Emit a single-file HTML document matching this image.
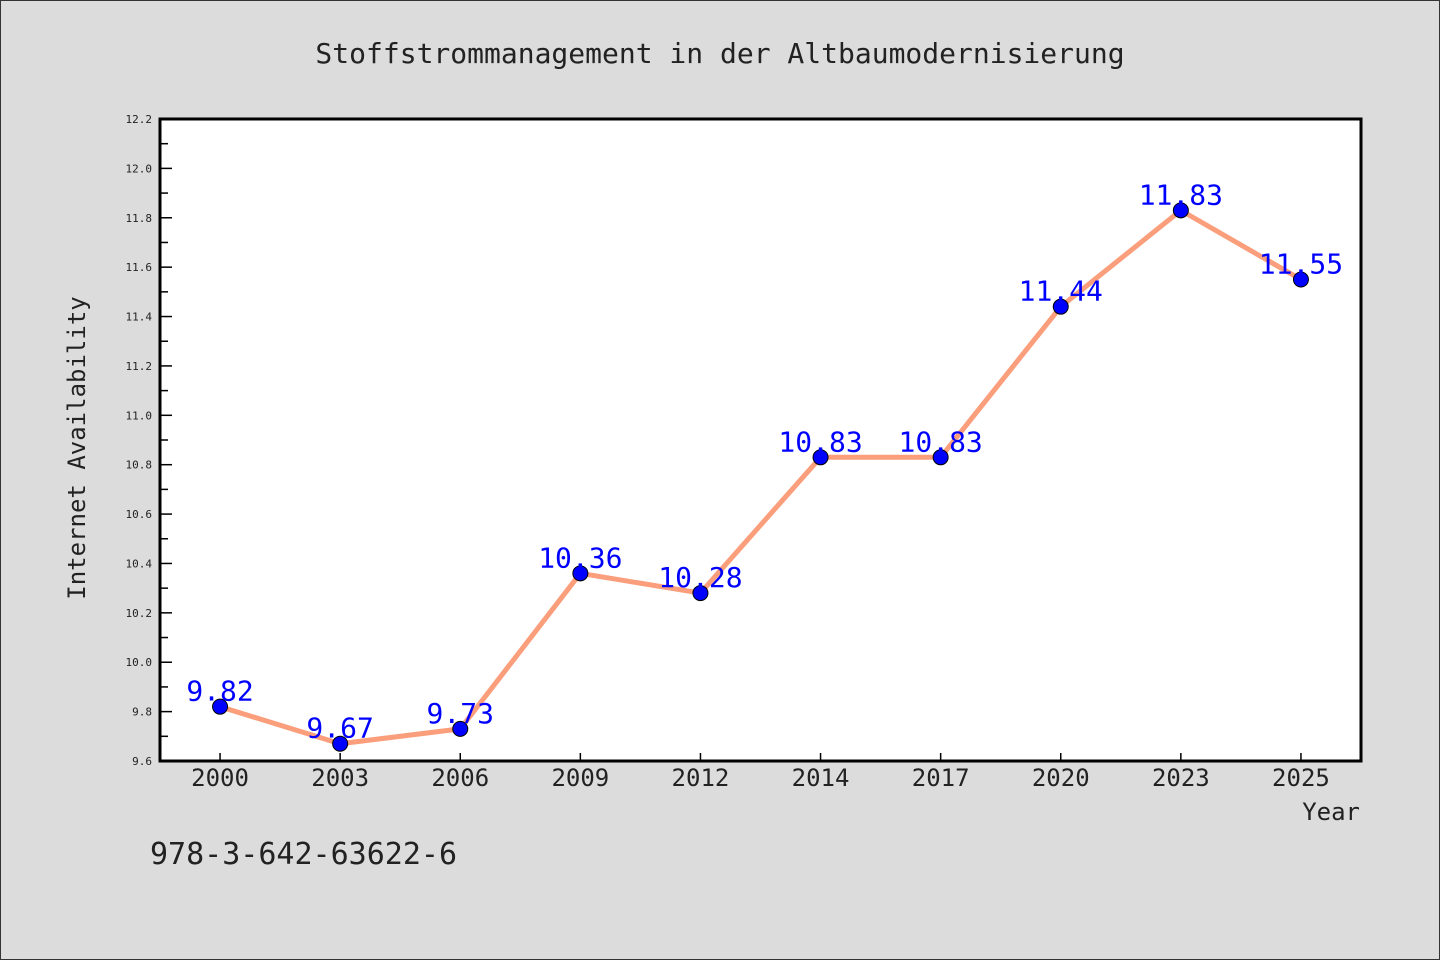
<!DOCTYPE html>
<html><head><meta charset="utf-8"><style>
body{margin:0;background:#dcdcdc}
svg{display:block}
text{font-family:"WenQuanYi Zen Hei","DejaVu Sans Mono",monospace}
</style></head><body>
<svg id="c" width="1440" height="960" xmlns="http://www.w3.org/2000/svg">
<rect x="0.5" y="0.5" width="1439" height="959" fill="#dcdcdc" stroke="#333"/>
<text x="720" y="63" font-size="28" text-anchor="middle" fill="#222">Stoffstrommanagement in der Altbaumodernisierung</text>
<rect x="160" y="119" width="1201" height="642" fill="#fff"/>
<g id="ticks"></g>
<g id="series"></g>
<path d="M160,119 H1361 V761 H160 Z" fill="none" stroke="#000" stroke-width="3"/>
<text transform="translate(85,448) rotate(-90)" font-size="24" text-anchor="middle" fill="#222">Internet Availability</text>
<text x="1360" y="820" font-size="24" text-anchor="end" fill="#222">Year</text>
<text x="150" y="864" font-size="30" fill="#222">978-3-642-63622-6</text>
</svg>
<script>
const categories=["2000","2003","2006","2009","2012","2014","2017","2020","2023","2025"];
const values=[9.82,9.67,9.73,10.36,10.28,10.83,10.83,11.44,11.83,11.55];
const valueLabels=["9.82","9.67","9.73","10.36","10.28","10.83","10.83","11.44","11.83","11.55"];
const yTicks=["9.6","9.8","10.0","10.2","10.4","10.6","10.8","11.0","11.2","11.4","11.6","11.8","12.0","12.2"];
const yMin=9.6,yMax=12.2,L=160,R=1361,T=119,B=761;
const NS="http://www.w3.org/2000/svg";
const y=v=>B-(v-yMin)/(yMax-yMin)*(B-T);
const band=(R-L)/categories.length;
const x=i=>L+band*(i+0.5);
function mk(tag,attrs,parent){const e=document.createElementNS(NS,tag);for(const k in attrs)e.setAttribute(k,attrs[k]);parent.appendChild(e);return e;}
const tg=document.getElementById('ticks'),sg=document.getElementById('series');
yTicks.forEach((t,i)=>{
 const v=parseFloat(t),yy=y(v);
 const l=mk('line',{x1:L,x2:L+12,y1:yy,y2:yy,stroke:'#000','stroke-width':1.5},tg);
 
 
 const tx=mk('text',{x:L-8,y:yy+4,'font-size':11,'text-anchor':'end',fill:'#222'},tg);
 tx.textContent=t;
 
 
 if(i<yTicks.length-1){const ym=y(v+0.1);
 const m=mk('line',{x1:L,x2:L+8,y1:ym,y2:ym,stroke:'#000','stroke-width':1.5},tg);
 
 }
});
categories.forEach((c,i)=>{
 const l=mk('line',{x1:x(i),x2:x(i),y1:B,y2:B-8,stroke:'#000','stroke-width':1.5},tg);
 
 
 const t=mk('text',{x:x(i),y:B+25,'font-size':24,'text-anchor':'middle',fill:'#222'},tg);
 t.textContent=c;
 
 
});
const line=mk('polyline',{points:values.map((v,i)=>x(i)+','+y(v)).join(' '),fill:'none',stroke:'#fa9e7c','stroke-width':5,'stroke-linejoin':'round'},sg);


values.forEach((v,i)=>{
 const p=mk('circle',{cx:x(i),cy:y(v),r:7.5,fill:'#0000ff',stroke:'#000','stroke-width':1},sg);
 
 
 const t=mk('text',{x:x(i),y:y(v)-6,'font-size':28,'text-anchor':'middle',fill:'#0000ff'},sg);
 t.textContent=valueLabels[i];
 
 
});
</script>
</body></html>
